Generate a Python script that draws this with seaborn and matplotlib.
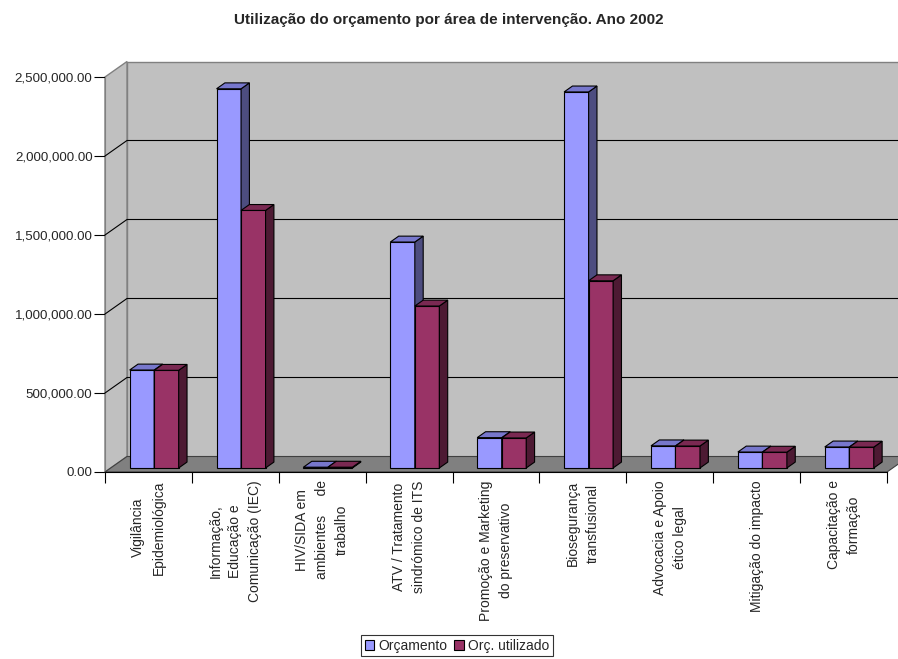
import pandas as pd
import matplotlib
matplotlib.use("Agg")
import matplotlib.pyplot as plt
import seaborn as sns
from matplotlib.patches import Polygon, Rectangle, Patch
from matplotlib.ticker import FuncFormatter

# data
areas = [
    "Vigilância\nEpidemiológica",
    "Informação,\nEducação e\nComunicação (IEC)",
    "HIV/SIDA em\nambientes     de\ntrabalho",
    "ATV / Tratamento\nsindrómico de ITS",
    "Promoção e Marketing\ndo preservativo",
    "Biosegurança\ntransfusional",
    "Advocacia e Apoio\nético legal",
    "Mitigação do impacto",
    "Capacitação e\nformação",
]
orcamento = [620000, 2400000, 5000, 1430000, 192000, 2380000, 140000, 101000, 133000]
utilizado = [618000, 1630000, 5000, 1025000, 190000, 1185000, 139000, 100000, 132000]
series = ["Orçamento", "Orç. utilizado"]
yticks = [0, 500000, 1000000, 1500000, 2000000, 2500000]

front_colors = ["#9999FF", "#993366"]
side_colors = ["#4D4D80", "#4D1A33"]
top_colors = ["#7777CC", "#7A2952"]

df = pd.DataFrame({
    "area": areas * 2,
    "valor": orcamento + utilizado,
    "serie": [series[0]] * len(areas) + [series[1]] * len(areas),
})

sns.set_style("white")
plt.rcParams["font.family"] = ["Liberation Sans", "DejaVu Sans"]

fig = plt.figure(figsize=(8.98, 6.59), dpi=100)
ax = fig.add_axes([105 / 898, (659 - 472) / 659, (887 - 105) / 898, (472 - 77) / 659])

sns.barplot(data=df, x="area", y="valor", hue="serie", palette=front_colors,
            width=0.564, saturation=1, edgecolor="black", linewidth=0.8,
            legend=False, ax=ax)

n = len(areas)
ax.set_xlim(-0.5, n - 0.5)
ax.set_ylim(0, yticks[-1])
ax.patch.set_visible(False)

# depth of the box, in data units (22 px right, 15.5 px up)
sx = 22 * n / ax.bbox.width
sy = 15.5 * yticks[-1] / ax.bbox.height
x0, x1, ytop = -0.5, n - 0.5, yticks[-1]

# back wall, side wall, floor
ax.add_patch(Rectangle((x0 + sx, sy), x1 - x0, ytop, fc="#C0C0C0", ec="#808080",
                       lw=1, zorder=0, clip_on=False))
ax.add_patch(Polygon([(x0, 0), (x0 + sx, sy), (x0 + sx, ytop + sy), (x0, ytop)],
                     fc="#C0C0C0", ec="#808080", lw=1, zorder=0.5, clip_on=False))
for v in yticks[1:-1]:
    ax.plot([x0, x0 + sx, x1 + sx], [v, v + sy, v + sy], color="black", lw=0.8,
            zorder=0.8, clip_on=False)
ax.add_patch(Polygon([(x0, 0), (x1, 0), (x1 + sx, sy), (x0 + sx, sy)],
                     fc="#808080", ec="#404040", lw=0.8, zorder=1, clip_on=False))

# bars: push into the box and add top / side faces
f0, f1 = 0.26, 0.38
for i, cont in enumerate(ax.containers):
    z = 3 + i
    for rect in cont:
        x = rect.get_x() + f0 * sx
        w = rect.get_width()
        b = f0 * sy
        h = rect.get_height()
        rect.set_x(x)
        rect.set_y(b)
        rect.set_zorder(z)
        rect.set_clip_on(False)
        dx, dy = f1 * sx, f1 * sy
        ax.add_patch(Polygon([(x + w, b), (x + w + dx, b + dy), (x + w + dx, b + h + dy), (x + w, b + h)],
                             fc=side_colors[i], ec="black", lw=0.8, zorder=z, clip_on=False))
        ax.add_patch(Polygon([(x, b + h), (x + w, b + h), (x + w + dx, b + h + dy), (x + dx, b + h + dy)],
                             fc=top_colors[i], ec="black", lw=0.8, zorder=z, clip_on=False))

# axes
for s in ["top", "right"]:
    ax.spines[s].set_visible(False)
ax.spines["left"].set_color("#808080")
ax.spines["left"].set_zorder(0.6)
ax.spines["bottom"].set_color("black")
ax.spines["bottom"].set_linewidth(0.8)

ax.set_yticks(yticks)
ax.yaxis.set_major_formatter(FuncFormatter(lambda v, p: f"{v:,.2f}"))
ax.tick_params(axis="y", direction="out", length=8, width=0.8, color="black",
               labelsize=9.6, pad=1, left=True)

ax.set_xticks(range(n))
ax.set_xticklabels(areas, rotation=90, fontsize=10, va="top", ha="center",
                   multialignment="center", linespacing=1.55)
ax.set_xticks([k - 0.5 for k in range(n + 1)], minor=True)
ax.tick_params(axis="x", which="major", length=0, pad=6)
ax.tick_params(axis="x", which="minor", direction="out", length=8, width=0.8,
               color="black", bottom=True)
ax.set_xlabel("")
ax.set_ylabel("")

fig.text(0.5, 1 - 20 / 659, "Utilização do orçamento por área de intervenção. Ano 2002",
         ha="center", va="center", fontsize=11, fontweight="bold")

handles = [Patch(fc=c, ec="black", lw=0.8) for c in front_colors]
leg = fig.legend(handles, series, loc="lower center", bbox_to_anchor=(457 / 898, 3 / 659),
                 ncol=2, fontsize=10, frameon=True, fancybox=False, edgecolor="black",
                 handlelength=0.7, handleheight=0.7, handletextpad=0.3,
                 columnspacing=0.5, borderpad=0.25, borderaxespad=0)
leg.get_frame().set_linewidth(0.8)

fig.savefig("out.png", dpi=100)
